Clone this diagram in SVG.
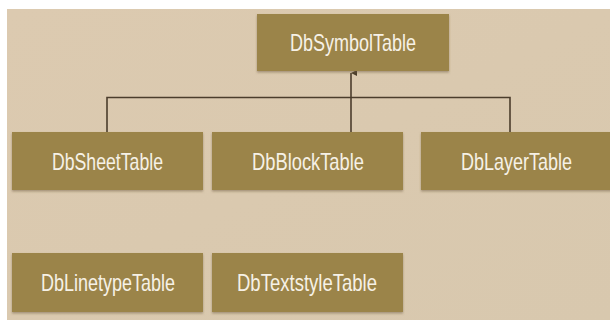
<svg xmlns="http://www.w3.org/2000/svg" width="610" height="320" viewBox="0 0 610 320">
<defs>
<style>
.box{fill:#9b8449;filter:url(#sh);}
.lbl{font-family:"Liberation Sans","Arial",sans-serif;font-size:24px;fill:#f6f1e6;text-anchor:middle;}
.conn{stroke:#4b3d2c;stroke-width:1.6;fill:none;}
</style>
<filter id="sh" x="-5%" y="-10%" width="110%" height="130%">
<feDropShadow dx="0" dy="1.5" stdDeviation="1" flood-color="#6b5a3e" flood-opacity="0.5"/>
</filter>
<marker id="arr" viewBox="0 0 6 6" refX="3" refY="0" markerWidth="6" markerHeight="6" orient="auto-start-reverse" markerUnits="userSpaceOnUse">
<path d="M0,6 L3,0 L6,6 Z" fill="#4b3d2c"/>
</marker>
<linearGradient id="bg" x1="0" y1="0" x2="1" y2="1">
<stop offset="0" stop-color="#dccab0"/>
<stop offset="1" stop-color="#d8c8ae"/>
</linearGradient>
</defs>
<rect x="0" y="0" width="610" height="320" fill="#ffffff"/>
<rect x="7" y="9" width="603" height="311" fill="url(#bg)"/>
<g id="connectors">
<path class="conn" d="M107,132 V97.5 H510 V132"/>
<path class="conn" d="M351,132 V73" marker-end="url(#arr)"/>
</g>
<g id="DbSymbolTable">
<rect class="box" x="257" y="14" width="192" height="57"/>
<text class="lbl" x="353" y="51" textLength="126" lengthAdjust="spacingAndGlyphs">DbSymbolTable</text>
</g>
<g id="DbSheetTable">
<rect class="box" x="12" y="132" width="191" height="58"/>
<text class="lbl" x="107.5" y="169.5" textLength="111" lengthAdjust="spacingAndGlyphs">DbSheetTable</text>
</g>
<g id="DbBlockTable">
<rect class="box" x="212" y="132" width="191" height="58"/>
<text class="lbl" x="308" y="169.5" textLength="112" lengthAdjust="spacingAndGlyphs">DbBlockTable</text>
</g>
<g id="DbLayerTable">
<rect class="box" x="421" y="132" width="195" height="58"/>
<text class="lbl" x="516.5" y="169.5" textLength="111" lengthAdjust="spacingAndGlyphs">DbLayerTable</text>
</g>
<g id="DbLinetypeTable">
<rect class="box" x="12" y="253" width="191" height="59"/>
<text class="lbl" x="108" y="290.5" textLength="134" lengthAdjust="spacingAndGlyphs">DbLinetypeTable</text>
</g>
<g id="DbTextstyleTable">
<rect class="box" x="212" y="253" width="191" height="59"/>
<text class="lbl" x="307" y="290.5" textLength="140" lengthAdjust="spacingAndGlyphs">DbTextstyleTable</text>
</g>
</svg>
